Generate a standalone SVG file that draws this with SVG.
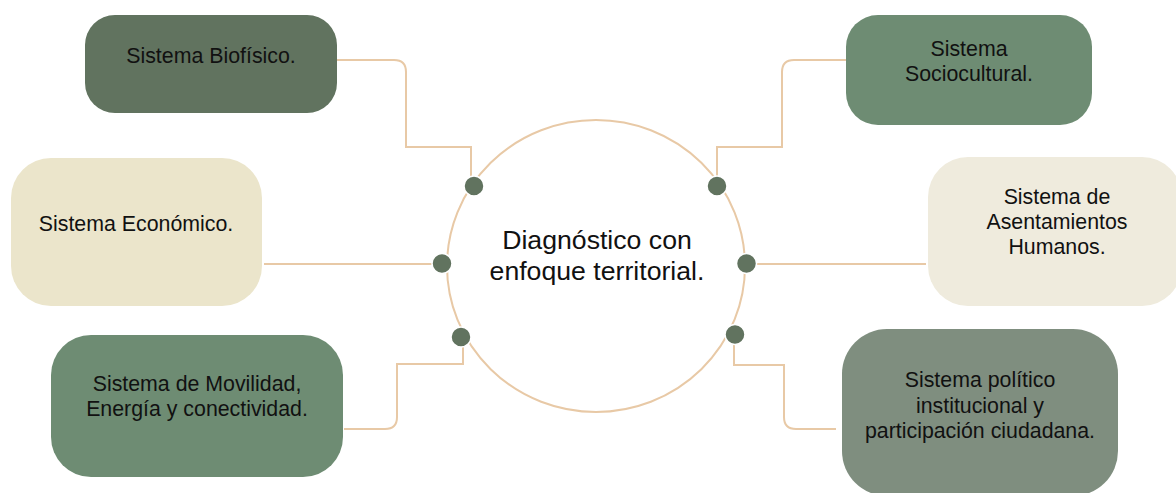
<svg xmlns="http://www.w3.org/2000/svg" width="1176" height="493" viewBox="0 0 1176 493">
<style>
.lbl{font-family:"Liberation Sans",Arial,sans-serif;font-size:21.33px;fill:#111;text-anchor:middle}
.ctr{font-family:"Liberation Sans",Arial,sans-serif;font-size:26.67px;fill:#111;text-anchor:middle}
.con{fill:none;stroke:#e8c9a6;stroke-width:2}
.dot{fill:#61735f;stroke:#fff;stroke-width:1.5}
</style>
<rect width="1176" height="493" fill="#fff"/>
<g id="connectors">
<path class="con" d="M332,60 H394 Q406,60 406,72 V147 H471 V177"/>
<path class="con" d="M851,60 H794 Q782,60 782,72 V147 H717 V176"/>
<path class="con" d="M264,264 H432"/>
<path class="con" d="M756,264 H926"/>
<path class="con" d="M344,429 H385 Q397,429 397,417 V364 H463 V347"/>
<path class="con" d="M734,345 V365 H784 V417 Q784,429 796,429 H836"/>
</g>
<g id="center">
<ellipse cx="596" cy="266" rx="149" ry="146" fill="#fff" stroke="#e8c9a6" stroke-width="2"/>
<text class="ctr" x="597" y="249">Diagnóstico con</text>
<text class="ctr" x="597" y="280">enfoque territorial.</text>
</g>
<g id="dots">
<circle class="dot" cx="474" cy="186" r="10"/>
<circle class="dot" cx="717" cy="186" r="10"/>
<circle class="dot" cx="442" cy="263.5" r="10"/>
<circle class="dot" cx="746.5" cy="263.5" r="10"/>
<circle class="dot" cx="461" cy="337" r="10"/>
<circle class="dot" cx="735" cy="334.5" r="10"/>
</g>
<g id="biofisico">
<rect x="85" y="15" width="252" height="98" rx="30" fill="#61735f"/>
<text class="lbl" x="211" y="62.5">Sistema Biofísico.</text>
</g>
<g id="sociocultural">
<rect x="846" y="15" width="246" height="110" rx="32" fill="#6e8c73"/>
<text class="lbl" x="969" y="55.5">Sistema</text>
<text class="lbl" x="969" y="81">Sociocultural.</text>
</g>
<g id="economico">
<rect x="11" y="158" width="251" height="148" rx="40" fill="#ebe5cb"/>
<text class="lbl" x="136" y="230.5">Sistema Económico.</text>
</g>
<g id="asentamientos">
<rect x="928" y="157" width="254" height="149" rx="40" fill="#efebdd"/>
<text class="lbl" x="1057" y="203.5">Sistema de</text>
<text class="lbl" x="1057" y="229">Asentamientos</text>
<text class="lbl" x="1057" y="254">Humanos.</text>
</g>
<g id="movilidad">
<rect x="51" y="335" width="292" height="142" rx="40" fill="#6e8c73"/>
<text class="lbl" x="197" y="391">Sistema de Movilidad,</text>
<text class="lbl" x="197" y="416">Energía y conectividad.</text>
</g>
<g id="politico">
<rect x="842" y="329" width="276" height="167" rx="45" fill="#7f8e7f"/>
<text class="lbl" x="980" y="387">Sistema político</text>
<text class="lbl" x="980" y="412.5">institucional y</text>
<text class="lbl" x="980" y="438">participación ciudadana.</text>
</g>
</svg>
